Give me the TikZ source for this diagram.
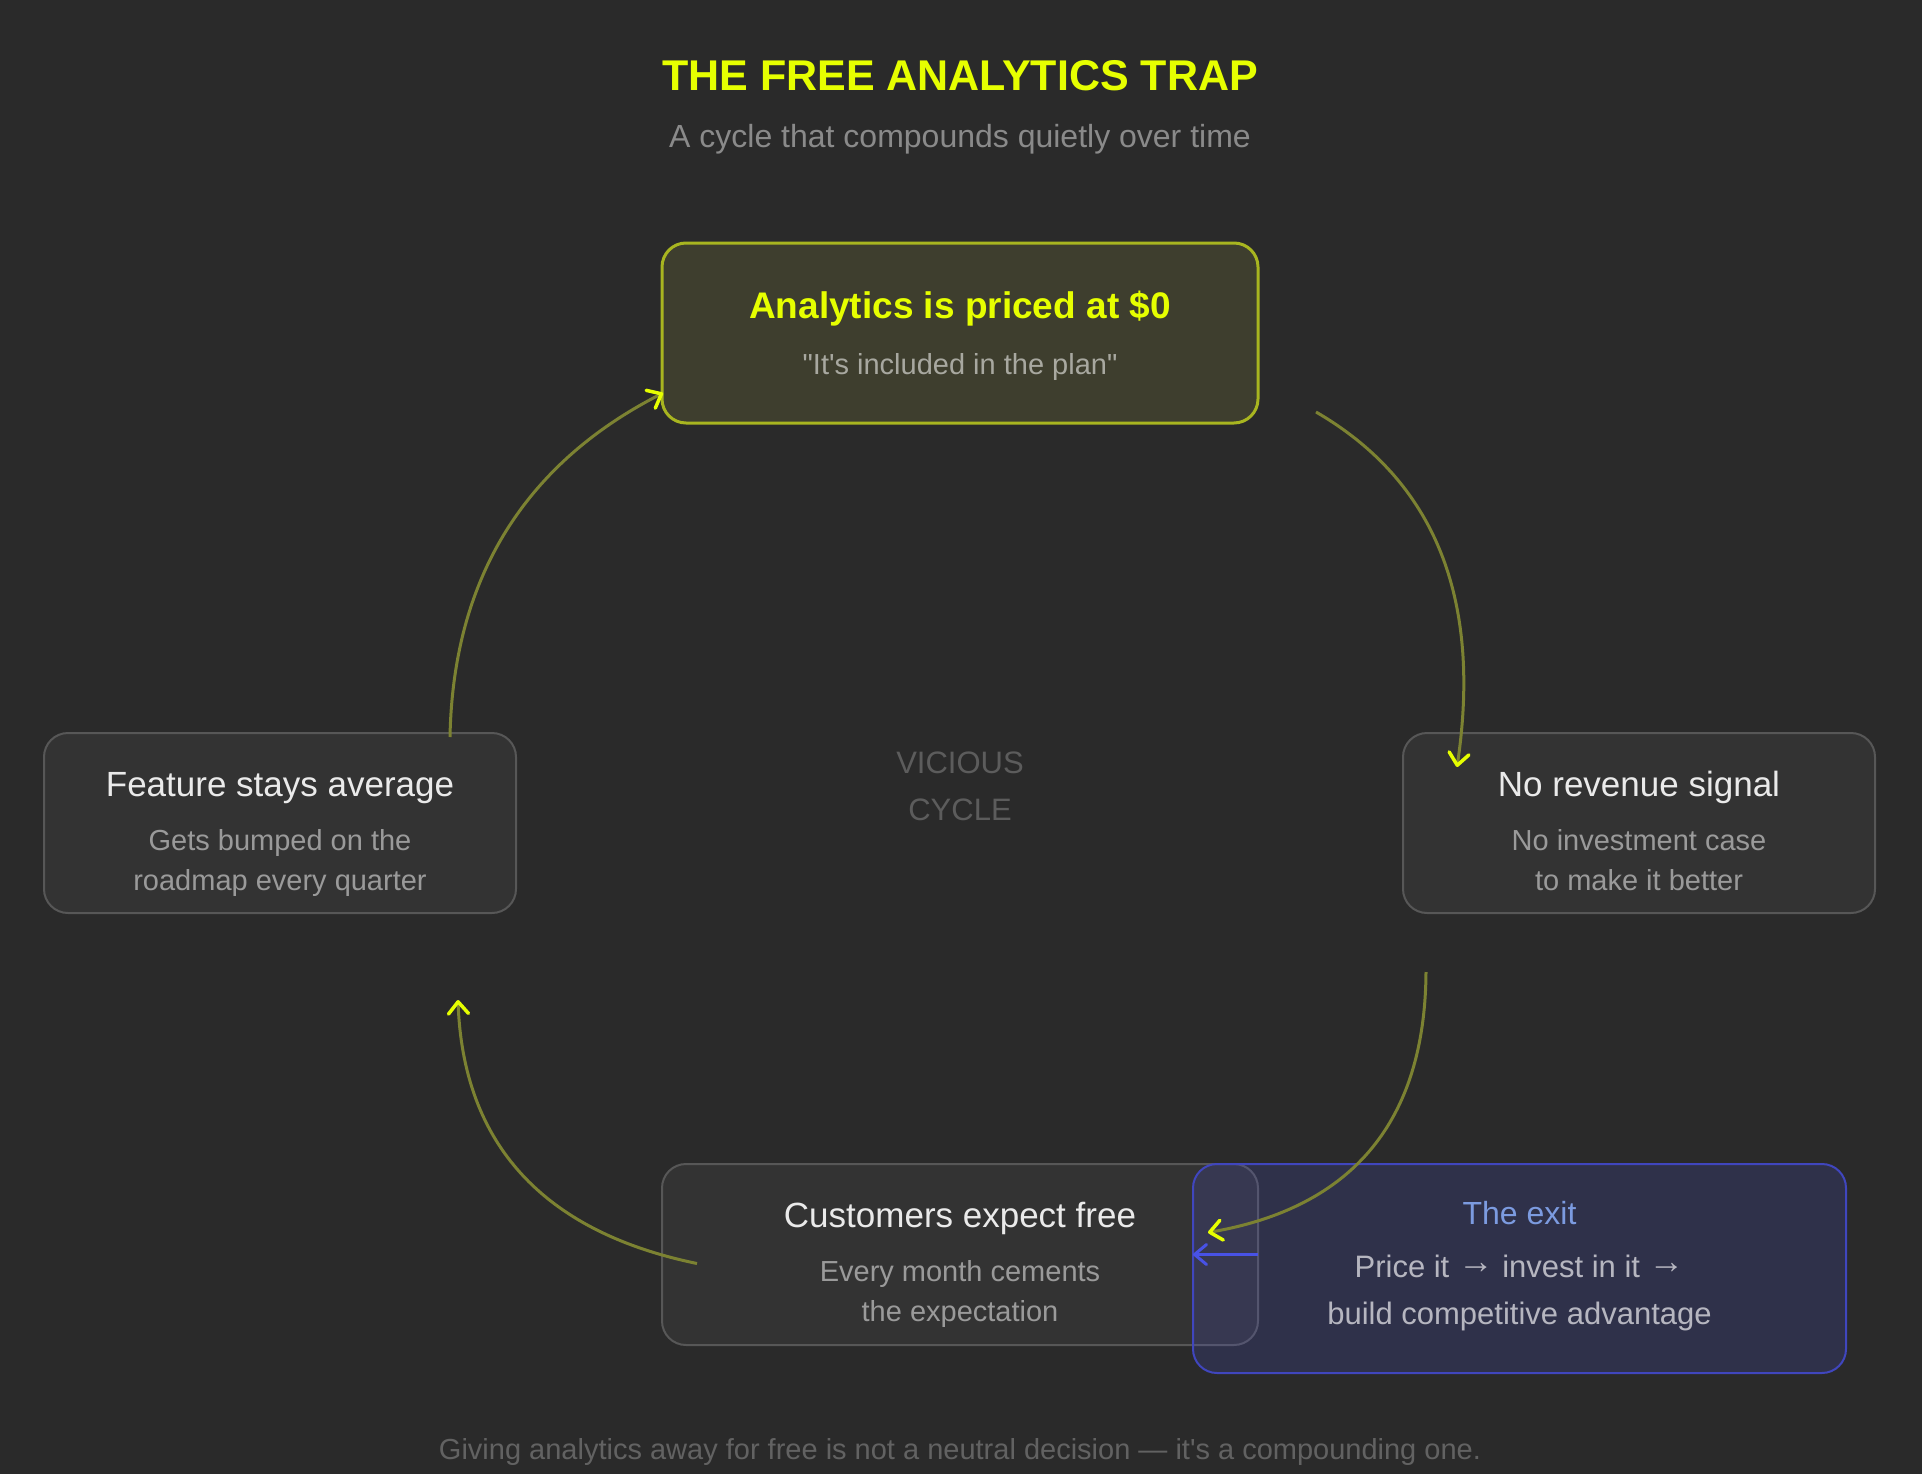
\documentclass[tikz,border=0pt]{standalone}
\usepackage{fontspec}
\setmainfont{Liberation Sans}[Ligatures=TeXOff]
\usepackage{tikz}
\usetikzlibrary{arrows.meta}

\definecolor{bgdark}{HTML}{2A2A2A}
\definecolor{trapyellow}{HTML}{E6FF00}
\definecolor{subgray}{HTML}{8A8A8A}
\definecolor{boxfill}{HTML}{333333}
\definecolor{boxline}{HTML}{575757}
\definecolor{hotfill}{HTML}{3E3E2E}
\definecolor{hotline}{HTML}{A8B520}
\definecolor{quotegray}{HTML}{A8A8A0}
\definecolor{exitfill}{RGB}{75,81,220}
\definecolor{exitline}{RGB}{64,70,190}
\definecolor{exitblue}{HTML}{7C9BE0}
\definecolor{exittext}{RGB}{182,182,192}
\definecolor{exitarrow}{RGB}{72,82,230}
\definecolor{cycleline}{HTML}{7C8232}
\definecolor{titlewhite}{HTML}{EAEAEA}
\definecolor{bodygray}{HTML}{9A9A9A}
\definecolor{dimgray}{HTML}{5C5C5C}
\definecolor{footgray}{HTML}{626262}

\newcommand{\nextstep}{\raisebox{0.14em}{\scalebox{1.15}{→}}}

\begin{document}
\begin{tikzpicture}[x=1pt, y=-1pt,
    card/.style={draw=boxline, fill=boxfill, line width=2pt, rounded corners=24pt,
      minimum width=472pt, minimum height=180pt, inner sep=0pt, outer sep=0pt},
    hotcard/.style={card, draw=hotline, fill=hotfill, line width=3pt, minimum width=596pt},
    exitcard/.style={card, draw=exitline, fill=exitfill, fill opacity=0.18,
      minimum width=653pt, minimum height=209pt},
    cardtitle/.style={anchor=base, text=titlewhite, font=\fontsize{35}{42}\selectfont},
    cardnote/.style={anchor=base, align=center, text=bodygray, font=\fontsize{29}{40}\selectfont},
    cycle arrow/.style={draw=cycleline, line width=3pt,
      -{Straight Barb[color=trapyellow, length=12pt, width=20pt, line width=3.5pt, round]}},
    exit arrow/.style={draw=exitarrow, line width=3pt,
      -{Straight Barb[color=exitarrow, length=12pt, width=20pt, line width=3pt, round]}}]
  \fill[bgdark] (0,0) rectangle (1922,1474);
  \useasboundingbox (0,0) rectangle (1922,1474);

  \node[anchor=base, text=trapyellow, font=\bfseries\fontsize{43}{50}\selectfont] (title) at (960,91) {THE FREE ANALYTICS TRAP};
  \node[anchor=base, text=subgray, font=\fontsize{32}{38}\selectfont] (subtitle) at (960,148) {A cycle that compounds quietly over time};

  \node[hotcard] (priced) at (960,333) {};
  \node[card] (signal) at (1639,823) {};
  \node[card, minimum width=596pt, minimum height=181pt] (expect) at (960,1254.5) {};
  \node[card] (average) at (280,823) {};
  \node[exitcard] (exit) at (1519.5,1268.5) {};

  \node[cardtitle, text=trapyellow, font=\bfseries\fontsize{37}{42}\selectfont] (priced-t) at ([shift={(0,-15)}]priced.center) {Analytics is priced at \$0};
  \node[cardnote, text=quotegray] (priced-n) at ([shift={(0,41)}]priced.center) {"It's included in the plan"};
  \node[cardtitle] (signal-t) at ([shift={(0,-27)}]signal.center) {No revenue signal};
  \node[cardnote] (signal-n) at ([shift={(0,67)}]signal.center) {No investment case\\to make it better};
  \node[cardtitle] (expect-t) at ([shift={(0,-27)}]expect.center) {Customers expect free};
  \node[cardnote] (expect-n) at ([shift={(0,67)}]expect.center) {Every month cements\\the expectation};
  \node[cardtitle] (average-t) at ([shift={(0,-27)}]average.center) {Feature stays average};
  \node[cardnote] (average-n) at ([shift={(0,67)}]average.center) {Gets bumped on the\\roadmap every quarter};
  \node[cardtitle, text=exitblue, font=\fontsize{32}{40}\selectfont] (exit-t) at ([shift={(0,-44)}]exit.center) {The exit};
  \node[cardnote, text=exittext, font=\fontsize{31}{47}\selectfont] (exit-n) at ([shift={(0,56)}]exit.center) {Price it \nextstep{} invest in it \nextstep\\build competitive advantage};

  \node[cardnote, text=dimgray, font=\fontsize{31}{47}\selectfont] (vicious) at (960,820) {VICIOUS\\CYCLE};

  \draw[cycle arrow] ([shift={(58,-11)}]priced.south east) .. controls +(119,69) and +(25,-168) .. ([shift={(54,34)}]signal.north west);
  \draw[cycle arrow] ([shift={(23,59)}]signal.south west) .. controls +(-1,149) and +(145,-25) .. ([shift={(-50,-22)}]expect.east);
  \draw[cycle arrow] ([shift={(35,9)}]expect.west) .. controls +(-155,-32) and +(5,143) .. ([shift={(-58,87)}]average.south east);
  \draw[cycle arrow] ([shift={(-66,4)}]average.north east) .. controls +(3,-158) and +(-139,71) .. ([shift={(1,-30)}]priced.south west);
  \draw[exit arrow] (expect.east) -- (expect.east -| exit.west);

  \node[anchor=base, text=footgray, font=\fontsize{29}{34}\selectfont] (footer) at (960,1459) {Giving analytics away for free is not a neutral decision — it's a compounding one.};
\end{tikzpicture}
\end{document}
